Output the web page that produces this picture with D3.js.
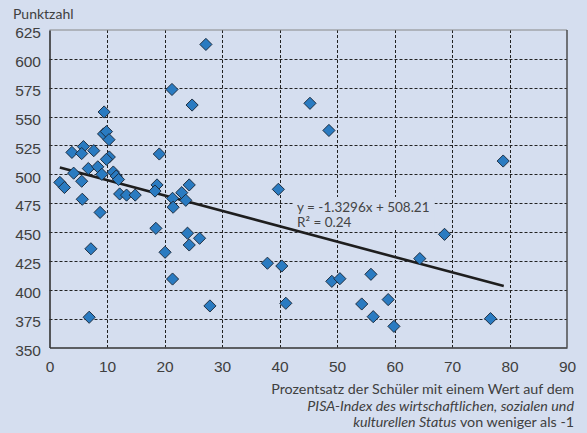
<!DOCTYPE html>
<html>
<head>
<meta charset="utf-8">
<script src="https://cdn.jsdelivr.net/npm/d3@7"></script>
<style>
  html, body { margin: 0; padding: 0; background: #d5deef; }
  svg { display: block; font-family: Lato, "Open Sans", sans-serif; }
  .tick text { fill: #404040; font-size: 15.5px; }
</style>
</head>
<body>
<svg id="chart" width="587" height="433"></svg>
<script>
// percent of students below -1 on the ESCS index
const shareLow = [
  27.2, 21.3, 24.8, 9.5, 45.3, 48.6, 39.8, 78.9, 68.7, 64.4,
  58.9, 59.9, 76.7, 37.9, 40.4, 27.9, 41.1, 49.1, 50.5, 55.9,
  54.3, 56.3, 9.4, 9.9, 10.35, 3.9, 5.9, 5.6, 7.7, 10.4,
  9.9, 19.1, 6.75, 8.4, 4.2, 9.1, 11.1, 11.6, 12.0, 1.8,
  2.6, 5.6, 12.2, 13.4, 14.9, 5.7, 8.8, 18.7, 18.35, 21.4,
  23.0, 24.3, 23.7, 21.5, 18.5, 24.0, 26.1, 24.3, 7.2, 20.1,
  21.4, 6.9
];
// mean score
const score = [
  612.5, 573.5, 560, 554, 561.5, 538, 487, 511.5, 448, 427,
  391.5, 368.3, 375, 423, 420.6, 386, 388.3, 407.3, 409.6, 413.4,
  387.7, 376.7, 535, 537, 530, 519, 524, 518, 520.5, 515,
  513, 517.6, 505, 506.5, 501, 500, 502, 498.5, 495.5, 493,
  488.6, 494, 483, 482, 482, 478.4, 467, 490.8, 485.5, 479.2,
  484.1, 490.8, 477.5, 471.5, 453.2, 449, 444.6, 438.8, 435.5, 432.5,
  409.3, 376.2
];
const xTicks = [0, 10, 20, 30, 40, 50, 60, 70, 80, 90];
const yTicks = [350, 375, 400, 425, 450, 475, 500, 525, 550, 575, 600, 625];
const slope = -1.3296, intercept = 508.21;
const trendRange = [1.8, 79];

const bg = "#d5deef";
const svg = d3.select("#chart");

const x = d3.scaleLinear().domain([0, 90]).range([49.5, 567]);
const y = d3.scaleLinear().domain([350, 625]).range([347.5, 30]);
const px = v => Math.round(x(v)) + 0.5;
const py = v => Math.round(y(v)) + 0.5;

// gridlines
const grid = svg.append("g").attr("stroke", "#222").attr("stroke-width", 1)
  .attr("stroke-dasharray", "3,2");
grid.selectAll("line.h").data(yTicks.slice(1, -1)).join("line")
  .attr("x1", x(0)).attr("x2", x(90))
  .attr("y1", py).attr("y2", py);
grid.selectAll("line.v").data(xTicks.slice(1, -1)).join("line")
  .attr("y1", y(625)).attr("y2", y(350))
  .attr("x1", px).attr("x2", px);

// equation label (box hides gridlines behind it)
const note = svg.append("g");
const noteBox = note.append("rect").attr("fill", bg);
const noteText = note.append("text")
  .attr("fill", "#444").attr("font-size", "13.5px");
noteText.append("tspan").attr("x", 297).attr("y", 212).text("y = -1.3296x + 508.21");
noteText.append("tspan").attr("x", 297).attr("y", 226.5).text("R² = 0.24");
const bb = noteText.node().getBBox();
noteBox.attr("x", bb.x - 3).attr("y", bb.y - 2)
  .attr("width", bb.width + 8).attr("height", bb.height + 2);

// frame
svg.append("line").attr("x1", x(0)).attr("x2", x(90)).attr("y1", y(625)).attr("y2", y(625))
  .attr("stroke", "#888").attr("stroke-width", 1.2);
svg.append("line").attr("x1", x(90)).attr("x2", x(90)).attr("y1", y(625)).attr("y2", y(350))
  .attr("stroke", "#444").attr("stroke-width", 1.4);

// axes
svg.append("g").attr("transform", `translate(0,${y(350)})`)
  .call(d3.axisBottom(x).tickValues(xTicks).tickSize(0).tickPadding(13))
  .call(g => g.select(".domain").attr("stroke", "#333").attr("stroke-width", 1.6));
svg.append("g").attr("transform", `translate(${x(0)},0)`)
  .call(d3.axisLeft(y).tickValues(yTicks).tickSize(0).tickPadding(8.5))
  .call(g => g.select(".domain").attr("stroke", "#333").attr("stroke-width", 1.6))
  .call(g => g.selectAll(".tick text").attr("dy", "0.5em"));

// trend line
svg.append("line")
  .attr("x1", x(trendRange[0])).attr("y1", y(slope * trendRange[0] + intercept))
  .attr("x2", x(trendRange[1])).attr("y2", y(slope * trendRange[1] + intercept))
  .attr("stroke", "#1e1e1e").attr("stroke-width", 2.6);

// markers
const pts = shareLow.map((v, i) => [v, score[i]]);
svg.append("g").selectAll("path").data(pts).join("path")
  .attr("transform", d => `translate(${x(d[0])},${y(d[1])}) rotate(45)`)
  .attr("d", "M-4.3,-4.3H4.3V4.3H-4.3Z")
  .attr("fill", "#2a7bc1").attr("stroke", "#1b2a3c").attr("stroke-width", 0.9);

// titles
svg.append("text").attr("x", 13).attr("y", 19)
  .attr("fill", "#404040").attr("font-size", "14px").text("Punktzahl");

const xt = svg.append("text").attr("text-anchor", "end")
  .attr("fill", "#404040").attr("font-size", "14.3px");
xt.append("tspan").attr("x", 574).attr("y", 394)
  .text("Prozentsatz der Schüler mit einem Wert auf dem");
xt.append("tspan").attr("x", 574).attr("y", 411).attr("font-style", "italic")
  .text("PISA-Index des wirtschaftlichen, sozialen und");
const l3 = xt.append("tspan").attr("x", 574).attr("y", 427);
l3.append("tspan").attr("font-style", "italic").text("kulturellen Status");
l3.append("tspan").text(" von weniger als -1");
</script>
</body>
</html>
